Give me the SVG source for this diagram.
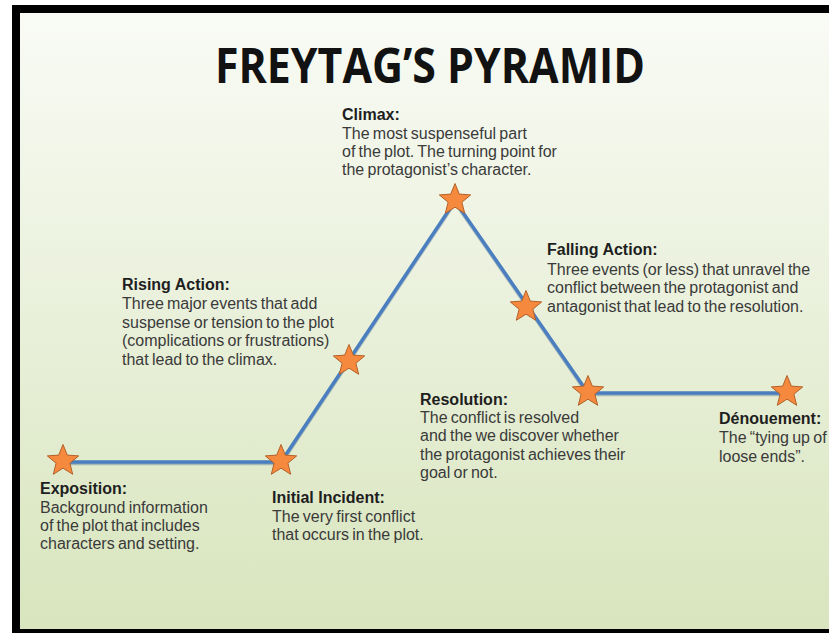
<svg xmlns="http://www.w3.org/2000/svg" xmlns:xlink="http://www.w3.org/1999/xlink" width="829" height="633" viewBox="0 0 829 633">
  <defs>
    <linearGradient id="bg" x1="0" y1="0" x2="0" y2="1">
      <stop offset="0" stop-color="#f9fbf5"/>
      <stop offset="0.5" stop-color="#e9f0da"/>
      <stop offset="1" stop-color="#d8e5bd"/>
    </linearGradient>
    <polygon id="star" points="0,-16.5 4.3,-5.9 15.7,-5.1 6.9,2.2 9.7,13.3 0,7.2 -9.7,13.3 -6.9,2.2 -15.7,-5.1 -4.3,-5.9"/>
  </defs>
  <style>
    .title { font-family: "Open Sans", "Liberation Sans", sans-serif; font-weight: 700; font-size: 49px; fill: #121212; }
    .label { font-family: "Liberation Sans", Arial, sans-serif; font-weight: 700; font-size: 16px; fill: #1e1e1e; }
    .body { font-family: "Liberation Sans", Arial, sans-serif; font-size: 16px; fill: #3a3a3a; word-spacing: -1.2px; }
    .star { fill: #f58a3e; stroke: #b3612a; stroke-width: 1; stroke-linejoin: miter; }
    .plot { fill: none; stroke: #4a7ebf; stroke-width: 3.5; stroke-linejoin: miter; }
    .shadow { fill: none; stroke: #2f5a8a; stroke-opacity: 0.35; stroke-width: 3.5; }
  </style>

  <rect x="0" y="0" width="829" height="633" fill="#ffffff"/>
  <rect x="12" y="5" width="817" height="628" fill="#000000"/>
  <rect x="20" y="13" width="809" height="616" fill="url(#bg)"/>

  <text class="title" x="430" y="83" text-anchor="middle" textLength="430" lengthAdjust="spacingAndGlyphs">FREYTAG’S PYRAMID</text>

  <g id="connectors">
    <polyline class="shadow" points="63,463.5 281,463.5 455,202.5 588,394.5 787,394.5"/>
    <polyline class="plot" points="63,462 281,462 455,201 588,393 787,393"/>
  </g>

  <g id="exposition">
    <use href="#star" class="star" x="63" y="461"/>
    <text class="label" x="40" y="494">Exposition:</text>
    <text class="body" x="40" y="513">Background information</text>
    <text class="body" x="40" y="531">of the plot that includes</text>
    <text class="body" x="40" y="549">characters and setting.</text>
  </g>

  <g id="initial-incident">
    <use href="#star" class="star" x="281" y="461"/>
    <text class="label" x="272" y="503">Initial Incident:</text>
    <text class="body" x="272" y="522">The very first conflict</text>
    <text class="body" x="272" y="540">that occurs in the plot.</text>
  </g>

  <g id="rising-action">
    <use href="#star" class="star" x="349" y="361"/>
    <text class="label" x="122" y="290">Rising Action:</text>
    <text class="body" x="122" y="309">Three major events that add</text>
    <text class="body" x="122" y="328">suspense or tension to the plot</text>
    <text class="body" x="122" y="346">(complications or frustrations)</text>
    <text class="body" x="122" y="365">that lead to the climax.</text>
  </g>

  <g id="climax">
    <use href="#star" class="star" x="455" y="200"/>
    <text class="label" x="342" y="120">Climax:</text>
    <text class="body" x="342" y="139">The most suspenseful part</text>
    <text class="body" x="342" y="157">of the plot. The turning point for</text>
    <text class="body" x="342" y="175">the protagonist’s character.</text>
  </g>

  <g id="falling-action">
    <use href="#star" class="star" x="526" y="307"/>
    <text class="label" x="547" y="255">Falling Action:</text>
    <text class="body" x="547" y="275">Three events (or less) that unravel the</text>
    <text class="body" x="547" y="293">conflict between the protagonist and</text>
    <text class="body" x="547" y="312">antagonist that lead to the resolution.</text>
  </g>

  <g id="resolution">
    <use href="#star" class="star" x="588" y="392"/>
    <text class="label" x="420" y="405">Resolution:</text>
    <text class="body" x="420" y="423">The conflict is resolved</text>
    <text class="body" x="420" y="441">and the we discover whether</text>
    <text class="body" x="420" y="460">the protagonist achieves their</text>
    <text class="body" x="420" y="478">goal or not.</text>
  </g>

  <g id="denouement">
    <use href="#star" class="star" x="787" y="392"/>
    <text class="label" x="719" y="424">Dénouement:</text>
    <text class="body" x="719" y="443">The “tying up of</text>
    <text class="body" x="719" y="462">loose ends”.</text>
  </g>
</svg>
